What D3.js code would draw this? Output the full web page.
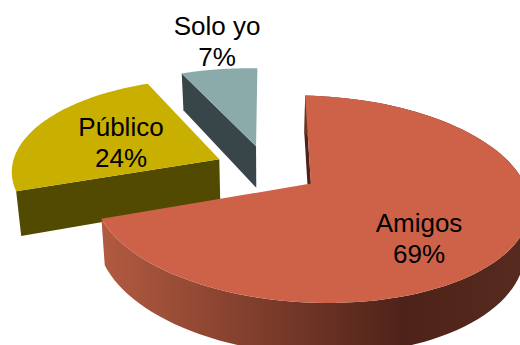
<!DOCTYPE html>
<html lang="en">

<head>
  <meta charset="UTF-8">
  <title>pie</title>
  <script src="https://d3js.org/d3.v7.min.js"></script>
  <style>
    html, body { margin: 0; background: #fff; }
    svg { display: block; }
    text { font-family: "Liberation Sans", Arial, sans-serif; font-size: 26px; fill: #000; text-anchor: middle; }
  </style>
</head>

<body>
  <svg id="pie" width="520" height="345"></svg>
  <script>
    const categories = ["Amigos", "Público", "Solo yo"];
    const values = [69, 24, 7];

    const topColors = ["#CE6249", "#C9AF00", "#8BABAB"];
    const wallColors = ["#4F2219", "#524A00", "#38464A"];

    const svg = d3.select("#pie");

    // ground plane -> screen, with a bit of perspective and camera roll
    const originX = 267, originY = 169;
    const tilt = 0.46, persp = 0.0007, roll = 0.02;
    const explode = 52, depth = 43, converge = 0.02;

    // the two far slices sit a little tighter than the big one
    const radiusFor = d => d.index === 0 ? 211 : 207;

    function project(u, v, z) {
      const s = 1 / (1 - persp * v);
      const zf = z / depth;
      return [originX + u * s * (1 - converge * zf), originY + v * tilt * s + z * s + roll * u * s];
    }

    const arcs = d3.pie().sort(null)(values);
    const line = d3.line();

    // ground position of a point on a slice, pushed out from the middle
    function ground(d, angle, r) {
      const mid = (d.startAngle + d.endAngle) / 2;
      return [
        explode * Math.sin(mid) + r * Math.sin(angle),
        -explode * Math.cos(mid) - r * Math.cos(angle)
      ];
    }

    function rimAngles(d) {
      return d3.range(0, 101).map(i => d.startAngle + (d.endAngle - d.startAngle) * i / 100);
    }

    function topPath(d) {
      const pts = [project(...ground(d, 0, 0), 0)];
      rimAngles(d).forEach(a => pts.push(project(...ground(d, a, radiusFor(d)), 0)));
      return line(pts) + "Z";
    }

    function wallPath(d, angle) {
      const c = ground(d, angle, 0), e = ground(d, angle, radiusFor(d));
      return line([project(...c, 0), project(...e, 0), project(...e, depth), project(...c, depth)]) + "Z";
    }

    function rimPath(d) {
      const a = rimAngles(d);
      const upper = a.map(t => project(...ground(d, t, radiusFor(d)), 0));
      const lower = a.slice().reverse().map(t => project(...ground(d, t, radiusFor(d)), depth));
      return line(upper.concat(lower)) + "Z";
    }

    const grad = svg.append("defs").append("linearGradient")
      .attr("id", "rim")
      .attr("gradientUnits", "userSpaceOnUse")
      .attr("x1", 102).attr("x2", 520).attr("y1", 0).attr("y2", 0);
    grad.append("stop").attr("offset", "0%").attr("stop-color", "#B25B40");
    grad.append("stop").attr("offset", "72%").attr("stop-color", "#4F2219");
    grad.append("stop").attr("offset", "100%").attr("stop-color", "#562A1E");

    // back to front: solo yo, publico, amigos
    const solo = arcs[2], publico = arcs[1], amigos = arcs[0];

    svg.append("path").attr("d", wallPath(solo, solo.startAngle)).attr("fill", wallColors[2]);
    svg.append("path").attr("d", topPath(solo)).attr("fill", topColors[2]);

    svg.append("path").attr("d", wallPath(publico, publico.startAngle)).attr("fill", wallColors[1]);
    svg.append("path").attr("d", topPath(publico)).attr("fill", topColors[1]);

    svg.append("path").attr("d", wallPath(amigos, amigos.startAngle)).attr("fill", wallColors[0]);
    svg.append("path").attr("d", rimPath(amigos)).attr("fill", "url(#rim)");
    svg.append("path").attr("d", topPath(amigos)).attr("fill", topColors[0]);

    // labels
    const labelX = d3.scaleOrdinal().domain(categories).range([419, 121, 217]);
    const labelY = d3.scaleOrdinal().domain(categories).range([232, 136, 35]);

    const labels = svg.selectAll("text.lbl").data(categories).join("text")
      .attr("class", "lbl")
      .attr("x", d => labelX(d))
      .attr("y", d => labelY(d));
    labels.append("tspan").text(d => d);
    labels.append("tspan")
      .attr("x", d => labelX(d))
      .attr("dy", 31)
      .text((d, i) => values[i] + "%");
  </script>
</body>

</html>
